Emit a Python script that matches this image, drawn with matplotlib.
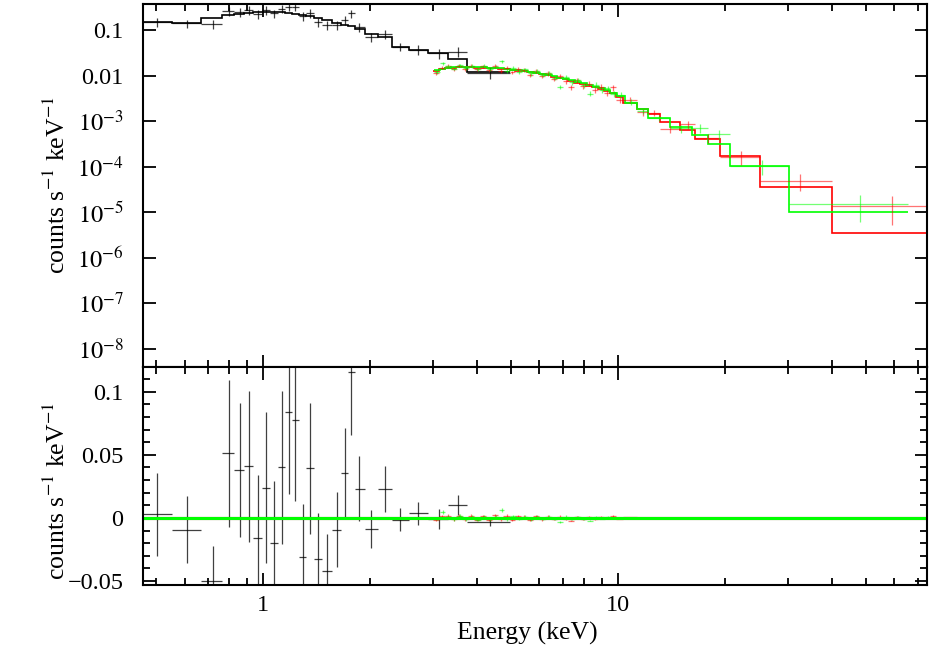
#!/usr/bin/env python3
"""XSPEC-style unfolded counts spectrum with residual panel."""

import numpy as np
import matplotlib
matplotlib.use('Agg')
import matplotlib.pyplot as plt
from matplotlib.ticker import FixedLocator, NullFormatter

plt.rcParams['font.family'] = ['Liberation Serif', 'DejaVu Serif']
plt.rcParams['mathtext.fontset'] = 'stix'

# ---- black (soft instrument) ----
blk_e = [0.5009, 0.6084, 0.7233, 0.7995, 0.8597, 0.9102, 0.9681, 1.0163, 1.0704,
         1.1305, 1.1789, 1.2282, 1.2921, 1.3535, 1.4260, 1.5116, 1.6128, 1.6987,
         1.7694, 1.8625, 2.0082, 2.1979, 2.4273, 2.7328, 3.1215, 3.5426, 4.3520]
blk_edges = [0.4583, 0.5533, 0.6677, 0.7650, 0.8296, 0.8851, 0.9384, 0.9915, 1.0444,
             1.1001, 1.1548, 1.2045, 1.2604, 1.3234, 1.3895, 1.4683, 1.5614, 1.6557,
             1.7325, 1.8130, 1.9341, 2.1040, 2.3048, 2.5728, 2.9099, 3.3135, 3.7485,
             4.9545]
blk_data = [0.1515, 0.140, 0.135, 0.259, 0.250, 0.272, 0.223, 0.272, 0.231, 0.296,
            0.321, 0.321, 0.201, 0.238, 0.1515, 0.129, 0.129, 0.165, 0.231, 0.117,
            0.0693, 0.0819, 0.0434, 0.0367, 0.0311, 0.0337, 0.01146]
blk_err = [0.033, 0.0265, 0.028, 0.058, 0.053, 0.060, 0.0495, 0.060, 0.049, 0.061,
           0.065, 0.064, 0.042, 0.052, 0.036, 0.029, 0.030, 0.036, 0.050, 0.026,
           0.015, 0.018, 0.009, 0.009, 0.008, 0.008, 0.0032]
blk_model = [0.151, 0.140, 0.180, 0.212, 0.223, 0.234, 0.243, 0.250, 0.249, 0.245,
             0.237, 0.228, 0.214, 0.201, 0.182, 0.165, 0.1456, 0.1317, 0.122, 0.1078,
             0.0819, 0.0693, 0.0421, 0.0367, 0.0311, 0.0234, 0.0122]
blk_resid = [0.003, -0.0092, -0.0503, 0.0511, 0.0379, 0.041, -0.0156, 0.0241, -0.0198,
             0.040, 0.0837, 0.0776, -0.031, 0.0392, -0.0322, -0.0418, -0.0092, 0.0353,
             0.1155, 0.0233, -0.009, 0.0228, -0.0013, 0.0035, -0.001, 0.010, -0.003]

# ---- red (hard instrument A) ----
red_edges = [3.0, 3.12, 3.24, 3.37, 3.5, 3.64, 3.78, 3.93, 4.08, 4.24, 4.4, 4.57, 4.75,
             4.94, 5.13, 5.33, 5.54, 5.76, 5.98, 6.22, 6.46, 6.71, 6.97, 7.24, 7.52,
             7.82, 8.12, 8.44, 8.77, 9.11, 9.47, 9.84, 10.33, 11.27, 12.15, 13.11,
             14.92, 16.45, 19.34, 25.07, 40.08, 78.0]
red_model = [0.0127, 0.0138, 0.0145, 0.0148, 0.0151, 0.0152, 0.0151, 0.0150, 0.0148,
             0.0146, 0.0143, 0.0140, 0.0136, 0.0131, 0.0127, 0.0123, 0.0118, 0.0113,
             0.0107, 0.0101, 0.0094, 0.0087, 0.0082, 0.0076, 0.0070, 0.0064, 0.0060,
             0.0055, 0.0050, 0.0045, 0.0041, 0.0034, 0.00245, 0.00184, 0.00143,
             0.000965, 0.000634, 0.000396, 0.000173, 3.6e-5, 3.5e-6]
red_data = [0.0112, 0.0150, 0.0162, 0.0138, 0.0166, 0.0140, 0.0165, 0.0137, 0.0160,
            0.0131, 0.0163, 0.0128, 0.0150, 0.0118, 0.0141, 0.0133, 0.0104, 0.0125,
            0.0096, 0.0112, 0.0085, 0.0098, 0.0074, 0.0055, 0.0078, 0.0058, 0.0066,
            0.0049, 0.0056, 0.0041, 0.0055, 0.0029, 0.0029, 0.00155, 0.00150,
            0.00066, 0.00085, 0.00042, 0.000164, 4.87e-5, 1.37e-5]
red_relerr = [0.10, 0.09, 0.09, 0.09, 0.08, 0.08, 0.08, 0.08, 0.08, 0.08,
              0.08, 0.09, 0.09, 0.09, 0.09, 0.10, 0.10, 0.10, 0.10, 0.11,
              0.11, 0.11, 0.12, 0.12, 0.12, 0.13, 0.13, 0.14, 0.14, 0.15,
              0.15, 0.15, 0.15, 0.16, 0.16, 0.18, 0.20, 0.22, 0.33, 0.41, 0.62]
red_resid = [-0.0015, 0.0012, 0.0017, -0.0010, 0.0015, -0.0012, 0.0014, -0.0013, 0.0012,
             -0.0015, 0.0020, -0.0012, 0.0014, -0.0013, 0.0014, 0.0010, -0.0014, 0.0012,
             -0.0011, 0.0011, -0.0009, 0.0011, -0.0008, -0.0021, 0.0008, -0.0006, 0.0006,
             -0.0006, 0.0006, -0.0004, 0.0014, -0.0005, 0.0005, -0.0003, 0.0001, -0.0003,
             0.0002, 0.0, 0.0, 0.0, 0.0]

# ---- green (hard instrument B) ----
grn_edges = [3.02, 3.14, 3.26, 3.39, 3.52, 3.66, 3.8, 3.95, 4.1, 4.26, 4.43, 4.6, 4.78,
             4.97, 5.16, 5.36, 5.57, 5.79, 6.01, 6.25, 6.49, 6.74, 7.0, 7.27, 7.56,
             7.85, 8.16, 8.48, 8.81, 9.15, 9.51, 9.9, 10.44, 11.27, 12.15, 13.98,
             16.1, 17.93, 20.64, 30.26, 65.6]
grn_model = [0.0130, 0.0140, 0.0147, 0.0151, 0.0154, 0.0155, 0.0154, 0.0153, 0.0151,
             0.0149, 0.0146, 0.0143, 0.0139, 0.0134, 0.0130, 0.0126, 0.0121, 0.0116,
             0.0110, 0.0104, 0.0097, 0.0090, 0.0085, 0.0079, 0.0073, 0.0067, 0.0062,
             0.0057, 0.0052, 0.0047, 0.0042, 0.0035, 0.00245, 0.00184, 0.00115,
             0.00075, 0.000492, 0.000312, 0.000104, 1.02e-5]
grn_data = [0.0122, 0.0185, 0.0158, 0.0142, 0.0168, 0.0146, 0.0163, 0.0140, 0.0162,
            0.0137, 0.0157, 0.0205, 0.0128, 0.0146, 0.0121, 0.0136, 0.0111, 0.0127,
            0.0102, 0.0115, 0.0090, 0.0056, 0.0093, 0.0072, 0.0080, 0.0062, 0.0040,
            0.0063, 0.0047, 0.0052, 0.0039, 0.0038, 0.0026, 0.0017, 0.00118,
            0.00069, 0.000713, 0.00051, 0.000104, 1.48e-5]
grn_relerr = [0.10, 0.09, 0.09, 0.09, 0.08, 0.08, 0.08, 0.08, 0.08, 0.08,
              0.08, 0.09, 0.09, 0.09, 0.09, 0.10, 0.10, 0.10, 0.10, 0.11,
              0.11, 0.11, 0.12, 0.12, 0.12, 0.13, 0.13, 0.14, 0.14, 0.15,
              0.15, 0.15, 0.15, 0.16, 0.17, 0.20, 0.22, 0.25, 0.37, 0.59]
grn_resid = [-0.0008, 0.0045, 0.0011, -0.0009, 0.0014, -0.0009, 0.0009, -0.0013, 0.0011,
             -0.0012, 0.0011, 0.0062, -0.0011, 0.0012, -0.0009, 0.0010, -0.0010, 0.0011,
             -0.0008, 0.0011, -0.0007, -0.0034, 0.0008, -0.0007, 0.0007, -0.0005, -0.0022,
             0.0006, -0.0005, 0.0005, -0.0003, 0.0003, 0.0002, -0.0001, 0.0, -0.0001,
             0.0002, 0.0002, 0.0, 0.0]

# axis ticks
top_yticks = [1e-8, 1e-7, 1e-6, 1e-5, 1e-4, 1e-3, 0.01, 0.1]
top_ylabels = ['$10^{-8}$', '$10^{-7}$', '$10^{-6}$', '$10^{-5}$', '$10^{-4}$',
               '$10^{-3}$', '0.01', '0.1']
bot_yticks = [-0.05, 0, 0.05, 0.1]
bot_ylabels = ['\u22120.05', '0', '0.05', '0.1']
xticks = [1, 10]
xlabels = ['1', '10']

RED = '#ff0000'
GRN = '#00ff00'
FS = 17.5      # tick labels
LFS = 18.5     # axis labels


def bin_centers(edges):
    e = np.asarray(edges)
    lo, hi = e[:-1], e[1:]
    c = 0.5 * (lo + hi)
    return c, c - lo, hi - c


def style_axis(ax):
    ax.set_xscale('log')
    ax.tick_params(which='both', direction='in', top=True, right=True,
                   width=1.3, labelsize=FS)
    ax.tick_params(axis='x', pad=7)
    ax.tick_params(axis='y', pad=14)
    ax.tick_params(which='major', length=9)
    ax.tick_params(which='minor', length=5)
    for s in ax.spines.values():
        s.set_linewidth(1.5)
    minors = [0.5, 0.6, 0.7, 0.8, 0.9, 2, 3, 4, 5, 6, 7, 8, 9,
              20, 30, 40, 50, 60, 70]
    ax.xaxis.set_major_locator(FixedLocator(xticks))
    ax.xaxis.set_minor_locator(FixedLocator(minors))
    ax.xaxis.set_minor_formatter(NullFormatter())


fig = plt.figure(figsize=(9.32, 6.48), dpi=100)
ax1 = fig.add_axes([0.15343, 0.43410, 0.84120, 0.55973])
ax2 = fig.add_axes([0.15343, 0.09722, 0.84120, 0.33688], sharex=ax1)

blk_lo = np.array(blk_e) - np.array(blk_edges[:-1])
blk_hi = np.array(blk_edges[1:]) - np.array(blk_e)
rc, rlo, rhi = bin_centers(red_edges)
gc, glo, ghi = bin_centers(grn_edges)
red_err = np.array(red_relerr) * np.array(red_data)
grn_err = np.array(grn_relerr) * np.array(grn_data)

# ---- top: data + model ----
ax1.errorbar(blk_e, blk_data, xerr=[blk_lo, blk_hi], yerr=blk_err, fmt='none',
             ecolor='black', elinewidth=0.9, alpha=0.75)
ax1.errorbar(rc, red_data, xerr=[rlo, rhi], yerr=red_err, fmt='none',
             ecolor=RED, elinewidth=0.9, alpha=0.55)
ax1.errorbar(gc, grn_data, xerr=[glo, ghi], yerr=grn_err, fmt='none',
             ecolor=GRN, elinewidth=0.9, alpha=0.55)
ax1.stairs(blk_model, blk_edges, color='black', lw=1.2, baseline=None)
ax1.stairs(red_model, red_edges, color=RED, lw=1.2, baseline=None)
ax1.stairs(grn_model, grn_edges, color=GRN, lw=1.2, baseline=None)

ax1.set_yscale('log')
style_axis(ax1)
ax1.set_ylim(4.0e-9, 0.373)
ax1.yaxis.set_major_locator(FixedLocator(top_yticks))
ax1.set_yticklabels(top_ylabels)
ax1.yaxis.set_minor_locator(matplotlib.ticker.LogLocator(base=10, subs=np.arange(2, 10)))
ax1.yaxis.set_minor_formatter(NullFormatter())
ax1.tick_params(labelbottom=False)
ax1.set_ylabel('counts s$^{-1}$ keV$^{-1}$', fontsize=LFS)
ax1.yaxis.set_label_coords(-0.093, 0.5)

# ---- bottom: residuals ----
ax2.errorbar(blk_e, blk_resid, xerr=[blk_lo, blk_hi], yerr=blk_err, fmt='none',
             ecolor='black', elinewidth=0.9, alpha=0.75)
ax2.errorbar(rc, red_resid, xerr=[rlo, rhi], yerr=red_err, fmt='none',
             ecolor=RED, elinewidth=0.9, alpha=0.55)
ax2.errorbar(gc, grn_resid, xerr=[glo, ghi], yerr=grn_err, fmt='none',
             ecolor=GRN, elinewidth=0.9, alpha=0.55)
ax2.axhline(0, color='black', lw=2.2)
ax2.axhline(0, color=RED, lw=2.2)
ax2.axhline(0, color=GRN, lw=2.2)

style_axis(ax2)
ax2.set_xlim(0.4583, 74.1)
ax2.set_ylim(-0.0532, 0.1199)
ax2.yaxis.set_major_locator(FixedLocator(bot_yticks))
ax2.set_yticklabels(bot_ylabels)
ax2.yaxis.set_minor_locator(matplotlib.ticker.MultipleLocator(0.01))
ax2.set_xticklabels(xlabels)
ax2.set_ylabel('counts s$^{-1}$ keV$^{-1}$', fontsize=LFS)
ax2.yaxis.set_label_coords(-0.093, 0.43)
ax2.set_xlabel('Energy (keV)', fontsize=LFS)
ax2.xaxis.set_label_coords(0.49, -0.17)

fig.savefig('out.png', dpi=100)
